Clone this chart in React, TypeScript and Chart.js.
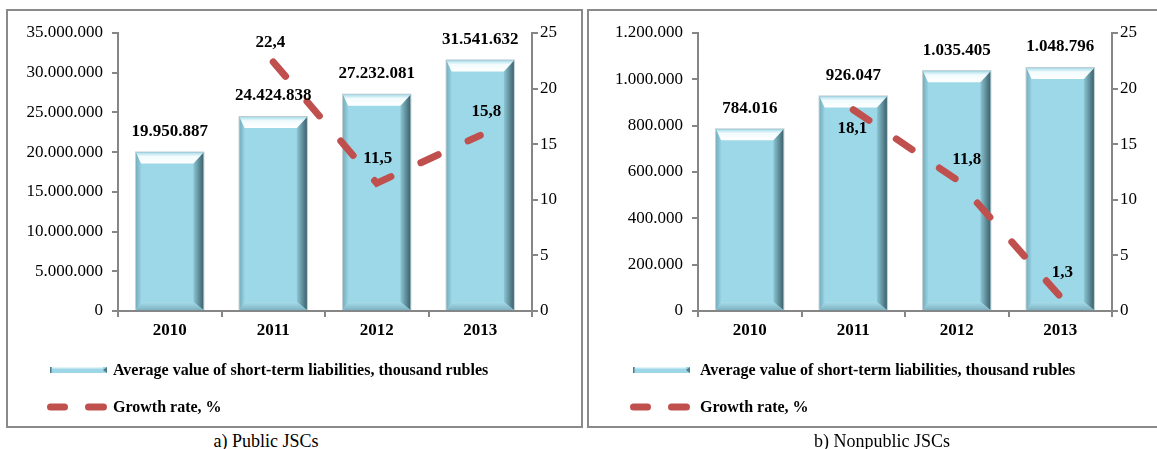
import React, { useEffect, useRef } from 'react';
import { Chart, registerables } from 'chart.js';

Chart.register(...registerables);

// ---------- data ----------
const categories = ['2010', '2011', '2012', '2013'];
const publicLiabilities = [19950887, 24424838, 27232081, 31541632];
const publicGrowth = [null, 22.4, 11.5, 15.8];
const nonpublicLiabilities = [784016, 926047, 1035405, 1048796];
const nonpublicGrowth = [null, 18.1, 11.8, 1.3];

const barLegendLabel = 'Average value of short-term liabilities, thousand rubles';
const lineLegendLabel = 'Growth rate, %';
const publicCaption = 'a) Public JSCs';
const nonpublicCaption = 'b) Nonpublic JSCs';

// axis ranges
const publicBarMax = 35000000;
const publicBarStep = 5000000;
const nonpublicBarMax = 1200000;
const nonpublicBarStep = 200000;
const growthMax = 25;
const growthStep = 5;

// label placement (style, pixels relative to the point)
const publicGrowthLabelOffsets = [[0, 0], [-3, -19], [1, -25], [6, -24]];
const nonpublicGrowthLabelOffsets = [[0, 0], [-1, 19], [10, -20], [2, -24]];

const SERIF = '"Liberation Serif", "Times New Roman", Times, serif';
const LINE_COLOR = '#C0504D';
const AXIS_COLOR = '#868686';

function fmtThousands(v: number) {
  return Math.round(v).toString().replace(/\B(?=(\d{3})+(?!\d))/g, '.');
}
function fmtDecimal(v: number) {
  return v.toFixed(1).replace('.', ',');
}

const barBevel = {
  id: 'barBevel',
  afterDatasetDraw(chart: any, args: any) {
    const ds = chart.data.datasets[args.index];
    if (ds.type !== 'bar') return;
    const ctx = chart.ctx;
    args.meta.data.forEach((el: any) => {
      const { x, y, base, width } = el.getProps(['x', 'y', 'base', 'width'], true);
      const x0 = x - width / 2;
      const x1 = x + width / 2;
      const yt = y;
      const yb = base;
      const bt = 11;
      const br = 10;
      const bl = 5;
      const bb = 8;
      ctx.save();
      // right bevel
      let g = ctx.createLinearGradient(x1 - br, 0, x1, 0);
      g.addColorStop(0, '#8cc6d4');
      g.addColorStop(1, '#3c626c');
      ctx.fillStyle = g;
      ctx.beginPath();
      ctx.moveTo(x1, yt);
      ctx.lineTo(x1, yb);
      ctx.lineTo(x1 - br, yb - bb);
      ctx.lineTo(x1 - br, yt + bt);
      ctx.closePath();
      ctx.fill();
      // left bevel
      g = ctx.createLinearGradient(x0, 0, x0 + bl, 0);
      g.addColorStop(0, '#76aebd');
      g.addColorStop(1, '#98d3e3');
      ctx.fillStyle = g;
      ctx.beginPath();
      ctx.moveTo(x0, yt);
      ctx.lineTo(x0 + bl, yt + bt);
      ctx.lineTo(x0 + bl, yb - bb);
      ctx.lineTo(x0, yb);
      ctx.closePath();
      ctx.fill();
      // bottom bevel
      g = ctx.createLinearGradient(0, yb - bb, 0, yb);
      g.addColorStop(0, '#a6dcea');
      g.addColorStop(1, '#7fb3c1');
      ctx.fillStyle = g;
      ctx.beginPath();
      ctx.moveTo(x0, yb);
      ctx.lineTo(x1, yb);
      ctx.lineTo(x1 - br, yb - bb);
      ctx.lineTo(x0 + bl, yb - bb);
      ctx.closePath();
      ctx.fill();
      // top bevel
      g = ctx.createLinearGradient(0, yt, 0, yt + bt);
      g.addColorStop(0, '#a9deec');
      g.addColorStop(0.35, '#f2fbfd');
      g.addColorStop(1, '#ffffff');
      ctx.fillStyle = g;
      ctx.beginPath();
      ctx.moveTo(x0, yt);
      ctx.lineTo(x1, yt);
      ctx.lineTo(x1 - br, yt + bt);
      ctx.lineTo(x0 + bl, yt + bt);
      ctx.closePath();
      ctx.fill();
      // soft outline
      ctx.strokeStyle = 'rgba(110,140,150,0.45)';
      ctx.lineWidth = 1;
      ctx.strokeRect(x0 - 0.5, yt - 0.5, width + 1, yb - yt + 1);
      ctx.restore();
    });
  },
};

const labelsAndLegend = {
  id: 'labelsAndLegend',
  afterDraw(chart: any) {
    const ctx = chart.ctx;
    const opts = chart.options.plugins.labelsAndLegend;
    ctx.save();
    ctx.fillStyle = '#000';
    ctx.textAlign = 'center';
    ctx.textBaseline = 'middle';
    ctx.font = `bold 17px ${SERIF}`;
    chart.data.datasets.forEach((ds: any, di: number) => {
      const meta = chart.getDatasetMeta(di);
      meta.data.forEach((el: any, i: number) => {
        const v = ds.data[i];
        if (v === null || v === undefined) return;
        if (ds.type === 'bar') {
          ctx.fillText(fmtThousands(v), el.x, el.y - 21);
        } else {
          const off = opts.lineOffsets[i];
          ctx.fillText(fmtDecimal(v), el.x + off[0], el.y + off[1]);
        }
      });
    });

    // legend
    const lx = opts.legendX;
    const tx = opts.legendTextX;
    const r1 = 360;
    const r2 = 397;
    // bar icon
    ctx.fillStyle = '#9dd6e6';
    ctx.fillRect(lx, r1 - 3, 57, 6);
    ctx.fillStyle = '#4f7b86';
    ctx.beginPath();
    ctx.moveTo(lx + 57, r1 - 3);
    ctx.lineTo(lx + 57, r1 + 3);
    ctx.lineTo(lx + 53, r1);
    ctx.closePath();
    ctx.fill();
    ctx.fillRect(lx, r1 - 3, 1.5, 6);
    ctx.fillStyle = '#dff3f8';
    ctx.fillRect(lx + 2, r1 - 3, 51, 1.5);
    // dash icon
    ctx.strokeStyle = LINE_COLOR;
    ctx.lineWidth = 7;
    ctx.lineCap = 'round';
    ctx.beginPath();
    ctx.moveTo(lx + 0.5, r2);
    ctx.lineTo(lx + 14.5, r2);
    ctx.moveTo(lx + 38.5, r2);
    ctx.lineTo(lx + 53.5, r2);
    ctx.stroke();
    // legend text
    ctx.fillStyle = '#000';
    ctx.textAlign = 'left';
    ctx.font = `bold 16px ${SERIF}`;
    ctx.fillText(barLegendLabel, tx, r1 + 1);
    ctx.fillText(lineLegendLabel, tx, r2 + 1);
    ctx.restore();
  },
};

type PanelCfg = {
  bars: number[];
  growth: (number | null)[];
  barMax: number;
  barStep: number;
  offsets: number[][];
  left: number;
  width: number;
  boxWidth: number;
  yWidth: number;
  y1Width: number;
  legendX: number;
  legendTextX: number;
  caption: string;
  captionX: number;
};

const PANEL_TOP = 10;
const PANEL_HEIGHT = 417;

function Panel({ cfg }: { cfg: PanelCfg }) {
  const ref = useRef<HTMLCanvasElement>(null);
  useEffect(() => {
    const canvas = ref.current!;
    const axisFont = { family: SERIF, size: 17 };
    const chart = new Chart(canvas, {
      type: 'bar',
      data: {
        labels: categories,
        datasets: [
          {
            type: 'line',
            label: lineLegendLabel,
            data: cfg.growth,
            yAxisID: 'y1',
            borderColor: LINE_COLOR,
            borderWidth: 7,
            borderDash: [19, 33],
            borderCapStyle: 'round',
            pointRadius: 0,
            fill: false,
            order: 0,
          } as any,
          {
            type: 'bar',
            label: barLegendLabel,
            data: cfg.bars,
            yAxisID: 'y',
            backgroundColor: '#9dd8e9',
            borderWidth: 0,
            categoryPercentage: 1,
            barPercentage: 0.65,
            order: 1,
          } as any,
        ],
      },
      options: {
        responsive: false,
        animation: false,
        layout: { padding: { top: 23, left: 0, right: 0, bottom: 0 } },
        plugins: {
          legend: { display: false },
          tooltip: { enabled: false },
          labelsAndLegend: {
            lineOffsets: cfg.offsets,
            legendX: cfg.legendX,
            legendTextX: cfg.legendTextX,
          },
        } as any,
        scales: {
          x: {
            grid: {
              drawOnChartArea: false,
              drawTicks: true,
              tickLength: 6,
              color: AXIS_COLOR,
              lineWidth: 2,
            },
            border: { display: true, color: AXIS_COLOR, width: 2 },
            ticks: {
              color: '#000',
              font: { ...axisFont, weight: 'bold' },
              padding: 3,
              maxRotation: 0,
            },
            afterFit: (s: any) => {
              s.height = PANEL_HEIGHT - 301;
            },
          },
          y: {
            position: 'left',
            min: 0,
            max: cfg.barMax,
            grid: {
              drawOnChartArea: false,
              drawTicks: true,
              tickLength: 6,
              color: AXIS_COLOR,
              lineWidth: 2,
            },
            border: { display: true, color: AXIS_COLOR, width: 2 },
            ticks: {
              stepSize: cfg.barStep,
              color: '#000',
              font: axisFont,
              padding: 9,
              callback: (v: any) => fmtThousands(Number(v)),
            },
            afterFit: (s: any) => {
              s.width = cfg.yWidth;
            },
          },
          y1: {
            position: 'right',
            min: 0,
            max: growthMax,
            grid: {
              drawOnChartArea: false,
              drawTicks: true,
              tickLength: 6,
              color: AXIS_COLOR,
              lineWidth: 2,
            },
            border: { display: true, color: AXIS_COLOR, width: 2 },
            ticks: {
              stepSize: growthStep,
              color: '#000',
              font: axisFont,
              padding: 2,
            },
            afterFit: (s: any) => {
              s.width = cfg.y1Width;
            },
          },
        },
      } as any,
      plugins: [barBevel, labelsAndLegend],
    });
    return () => chart.destroy();
  }, [cfg]);

  return (
    <>
      <canvas
        ref={ref}
        width={cfg.width}
        height={PANEL_HEIGHT}
        style={{
          position: 'absolute',
          left: cfg.left,
          top: PANEL_TOP,
          width: cfg.width,
          height: PANEL_HEIGHT,
        }}
      />
      <div
        style={{
          position: 'absolute',
          left: cfg.left - 1,
          top: PANEL_TOP - 1,
          width: cfg.boxWidth,
          height: PANEL_HEIGHT + 2,
          boxSizing: 'border-box',
          border: '2px solid #8a8a8a',
          pointerEvents: 'none',
        }}
      />
      <div
        style={{
          position: 'absolute',
          left: cfg.captionX,
          top: 431,
          transform: 'translateX(-50%)',
          fontFamily: SERIF,
          fontSize: 18,
          lineHeight: '20px',
          whiteSpace: 'nowrap',
          color: '#000',
        }}
      >
        {cfg.caption}
      </div>
    </>
  );
}

const publicPanel: PanelCfg = {
  bars: publicLiabilities,
  growth: publicGrowth,
  barMax: publicBarMax,
  barStep: publicBarStep,
  offsets: publicGrowthLabelOffsets,
  left: 7,
  width: 575,
  boxWidth: 577,
  yWidth: 111,
  y1Width: 50,
  legendX: 43,
  legendTextX: 106,
  caption: publicCaption,
  captionX: 266,
};

const nonpublicPanel: PanelCfg = {
  bars: nonpublicLiabilities,
  growth: nonpublicGrowth,
  barMax: nonpublicBarMax,
  barStep: nonpublicBarStep,
  offsets: nonpublicGrowthLabelOffsets,
  left: 588,
  width: 568,
  boxWidth: 580,
  yWidth: 110,
  y1Width: 44,
  legendX: 45,
  legendTextX: 112,
  caption: nonpublicCaption,
  captionX: 882,
};

export default function App() {
  return (
    <div
      style={{
        position: 'fixed',
        left: 0,
        top: 0,
        width: 1157,
        height: 449,
        background: '#fff',
        overflow: 'hidden',
      }}
    >
      <Panel cfg={publicPanel} />
      <Panel cfg={nonpublicPanel} />
    </div>
  );
}
